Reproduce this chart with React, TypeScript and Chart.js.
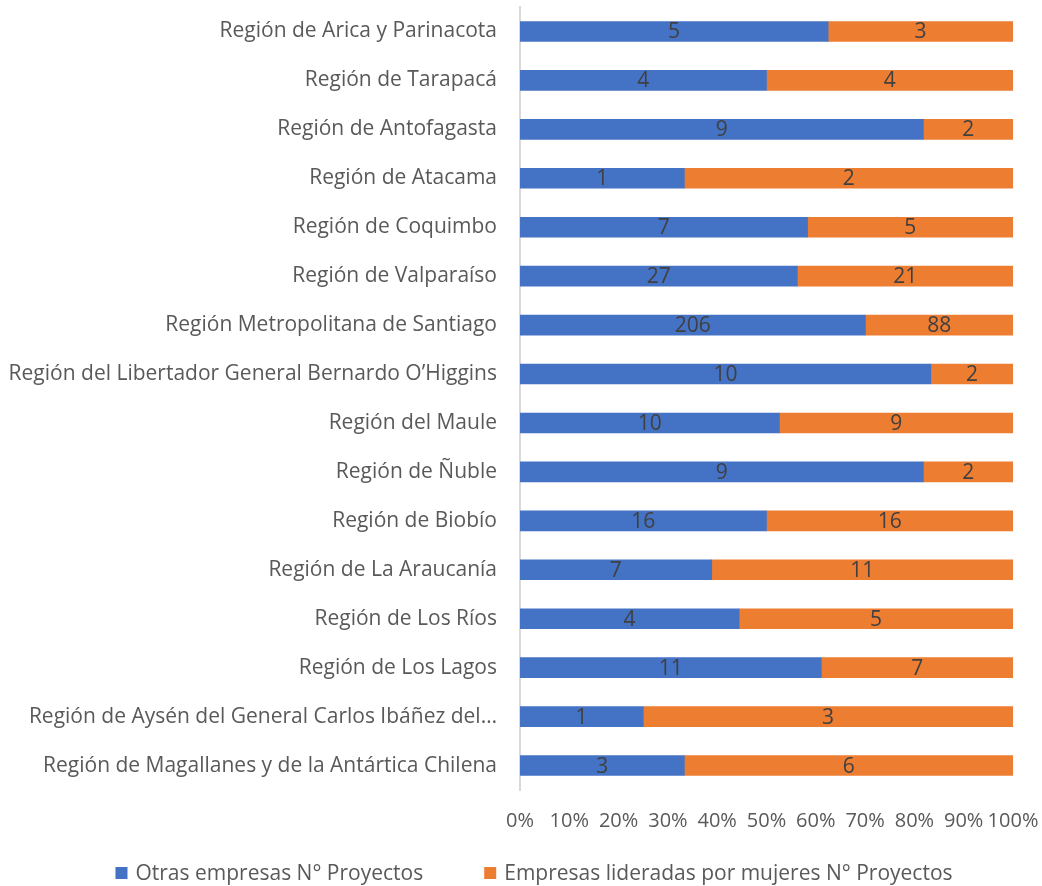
import React, { useEffect, useRef } from 'react';
import { Chart, registerables } from 'chart.js';

Chart.register(...registerables);

const categories = [
  'Región de Arica y Parinacota',
  'Región de Tarapacá',
  'Región de Antofagasta',
  'Región de Atacama',
  'Región de Coquimbo',
  'Región de Valparaíso',
  'Región Metropolitana de Santiago',
  'Región del Libertador General Bernardo O’Higgins',
  'Región del Maule',
  'Región de Ñuble',
  'Región de Biobío',
  'Región de La Araucanía',
  'Región de Los Ríos',
  'Región de Los Lagos',
  'Región de Aysén del General Carlos Ibáñez del…',
  'Región de Magallanes y de la Antártica Chilena',
];

const otrasEmpresas = [5, 4, 9, 1, 7, 27, 206, 10, 10, 9, 16, 7, 4, 11, 1, 3];
const empresasMujeres = [3, 4, 2, 2, 5, 21, 88, 2, 9, 2, 16, 11, 5, 7, 3, 6];

const seriesNames = ['Otras empresas N° Proyectos', 'Empresas lideradas por mujeres N° Proyectos'];
const seriesColors = ['#4472C4', '#ED7D31'];

const FONT = '"Open Sans", "Noto Sans", sans-serif';
const LABEL_SIZE = 21;
const TICK_SIZE = 20;
const DATA_SIZE = 21;
const LEGEND_SIZE = 21;

const rawSeries = [otrasEmpresas, empresasMujeres];

const pctSeries = rawSeries.map((s) =>
  s.map((v, i) => (v / (otrasEmpresas[i] + empresasMujeres[i])) * 100)
);

const dataLabelPlugin = {
  id: 'dataLabels',
  afterDatasetsDraw(chart: any) {
    const ctx = chart.ctx;
    ctx.save();
    ctx.font = `${DATA_SIZE}px ${FONT}`;
    ctx.fillStyle = '#404040';
    ctx.textAlign = 'center';
    ctx.textBaseline = 'middle';
    chart.data.datasets.forEach((ds: any, di: number) => {
      const meta = chart.getDatasetMeta(di);
      meta.data.forEach((bar: any, i: number) => {
        const p = bar.getProps(['x', 'y', 'base'], true);
        const cx = (p.x + p.base) / 2;
        ctx.fillText(String(rawSeries[di][i]), cx, p.y + 1);
      });
    });
    ctx.restore();
  },
};

const legendPlugin = {
  id: 'customLegend',
  afterDraw(chart: any) {
    const ctx = chart.ctx;
    ctx.save();
    ctx.font = `${LEGEND_SIZE}px ${FONT}`;
    ctx.textBaseline = 'middle';
    ctx.textAlign = 'left';
    const box = 12;
    const gap = 8;
    const spacing = 61;
    const widths = seriesNames.map((n) => ctx.measureText(n).width);
    const total = widths.reduce((a, w) => a + box + gap + w, 0) + spacing * (seriesNames.length - 1);
    let x = chart.width / 2 + 13 - total / 2;
    const y = 873;
    seriesNames.forEach((n, i) => {
      ctx.fillStyle = seriesColors[i];
      ctx.fillRect(x, y - box / 2, box, box);
      ctx.fillStyle = '#595959';
      ctx.fillText(n, x + box + gap, y + 1);
      x += box + gap + widths[i] + spacing;
    });
    ctx.restore();
  },
};

export default function App() {
  const canvasRef = useRef<HTMLCanvasElement | null>(null);

  useEffect(() => {
    if (!canvasRef.current) return;
    const chart = new Chart(canvasRef.current, {
      type: 'bar',
      data: {
        labels: categories,
        datasets: seriesNames.map((name, i) => ({
          label: name,
          data: pctSeries[i],
          backgroundColor: seriesColors[i],
          borderWidth: 0,
          barThickness: 20,
        })),
      },
      options: {
        indexAxis: 'y',
        animation: false,
        responsive: false,
        maintainAspectRatio: false,
        layout: { padding: { left: 0, right: 29, top: 7, bottom: 52 } },
        plugins: {
          legend: { display: false },
          tooltip: { enabled: false },
          title: { display: false },
        },
        scales: {
          x: {
            stacked: true,
            min: 0,
            max: 100,
            grid: { display: false, drawTicks: false },
            border: { display: false },
            afterFit: (scale: any) => {
              scale.height = 44;
              scale.paddingLeft = 0;
              scale.paddingRight = 0;
            },
            ticks: {
              stepSize: 10,
              padding: 19,
              color: '#595959',
              font: { family: FONT, size: TICK_SIZE },
              maxRotation: 0,
              autoSkip: false,
              callback: (v: any) => `${v}%`,
            },
          },
          y: {
            stacked: true,
            grid: { display: false },
            border: { display: true, color: '#d9d9d9', width: 2 },
            afterFit: (scale: any) => {
              scale.width = 520;
              scale.paddingTop = 0;
              scale.paddingBottom = 0;
            },
            ticks: {
              padding: 15,
              color: '#595959',
              font: { family: FONT, size: LABEL_SIZE },
              autoSkip: false,
            },
          },
        },
      },
      plugins: [dataLabelPlugin, legendPlugin],
    });
    return () => chart.destroy();
  }, []);

  return (
    <div style={{ position: 'fixed', left: 0, top: 0, width: 1042, height: 886, background: '#fff' }}>
      <canvas ref={canvasRef} width={1042} height={886} />
    </div>
  );
}
